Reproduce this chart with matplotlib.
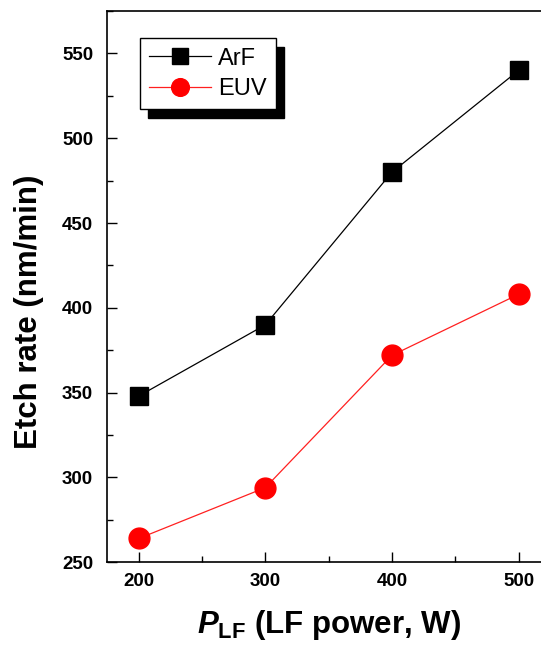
import matplotlib as mpl
mpl.use('Agg')
import matplotlib.pyplot as plt
from matplotlib.patches import Rectangle
from matplotlib.ticker import MultipleLocator

# datos
power = [200, 300, 400, 500]
arf_rate = [348, 390, 480, 540]
euv_rate = [264, 294, 372, 408]

plt.rcParams['font.family'] = ['Liberation Sans', 'DejaVu Sans']
plt.rcParams['mathtext.fontset'] = 'custom'
plt.rcParams['mathtext.it'] = 'Liberation Sans:bold:italic'
plt.rcParams['mathtext.rm'] = 'Liberation Sans:bold'
plt.rcParams['mathtext.bf'] = 'Liberation Sans:bold'

fig = plt.figure(figsize=(5.41, 6.53), dpi=100)
ax = fig.add_axes([0.198, 0.139, 0.819, 0.844])

ax.plot(power, arf_rate, color='k', lw=0.9, marker='s', ms=13.5,
        mfc='k', mec='k', label='ArF')
ax.plot(power, euv_rate, color='#ff2020', lw=0.9, marker='o', ms=15,
        mfc='#ff0000', mec='#ff0000', label='EUV')

ax.set_xlim(175, 525)
ax.set_ylim(250, 575)
ax.xaxis.set_major_locator(MultipleLocator(100))
ax.xaxis.set_minor_locator(MultipleLocator(50))
ax.yaxis.set_major_locator(MultipleLocator(50))
ax.yaxis.set_minor_locator(MultipleLocator(25))
ax.tick_params(which='both', direction='in', top=False, right=False, width=1.0)
ax.tick_params(which='major', length=7, labelsize=13.5)
ax.tick_params(axis='x', which='major', pad=8)
ax.tick_params(axis='y', which='major', pad=10)
ax.tick_params(which='minor', length=4)
for lab in ax.get_xticklabels() + ax.get_yticklabels():
    lab.set_fontweight('bold')
for s in ax.spines.values():
    s.set_linewidth(1.2)
ax.spines['right'].set_visible(False)

ax.set_ylabel('Etch rate (nm/min)', fontsize=22.5, fontweight='bold')
ax.yaxis.set_label_coords(-0.143, 0.455)
ax.set_xlabel(r'$\mathit{P}_{\mathrm{LF}}$ (LF power, W)', fontsize=22.5,
              fontweight='bold', labelpad=13)

leg = ax.legend(loc='upper left', bbox_to_anchor=(0.074, 0.951), fontsize=17,
                frameon=True, fancybox=False, edgecolor='k', framealpha=1,
                handlelength=2.6, borderpad=0.4, labelspacing=0.35,
                handletextpad=0.3, borderaxespad=0, markerscale=0.85)
leg.get_frame().set_linewidth(1.0)
leg.set_zorder(5)

# sombra negra del cuadro de leyenda
fig.canvas.draw()
bb = leg.get_window_extent()
sombra = Rectangle((bb.x0 + 8, bb.y0 - 9), bb.width, bb.height,
                   transform=None, facecolor='k', edgecolor='k', zorder=4,
                   clip_on=False)
ax.add_artist(sombra)

plt.savefig('out.png', dpi=100)
